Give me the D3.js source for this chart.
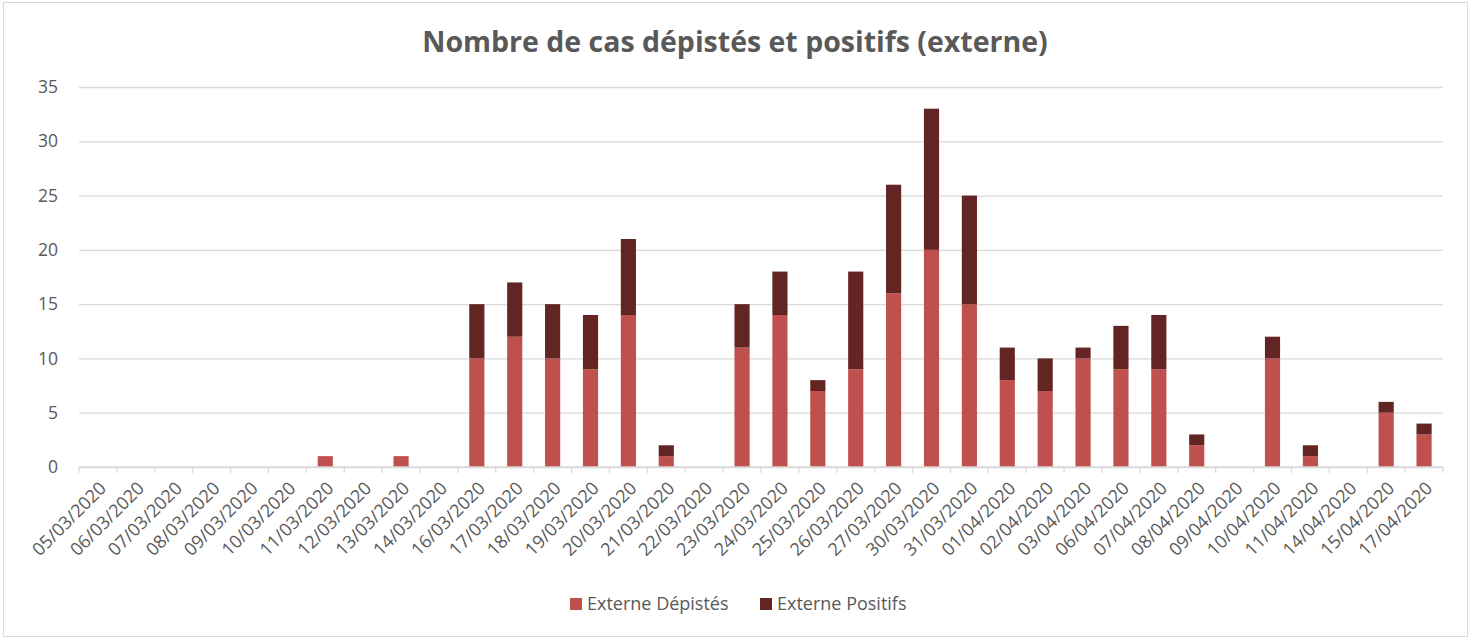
<!DOCTYPE html>
<html>
<head>
<meta charset="utf-8">
<script src="https://cdn.jsdelivr.net/npm/d3@7"></script>
<style>
	body { margin: 0; background: #fff; }
	svg { display: block; font-family: "Open Sans", "Noto Sans", sans-serif; }
	.tick text { fill: #595959; font-size: 17.5px; }
	.x-axis .tick text { font-size: 18px; }
	.gridline line { stroke: #d9d9d9; stroke-width: 1.3; }
	.x-axis path, .x-axis line { stroke: #d9d9d9; stroke-width: 1.3; }
	.title { fill: #595959; font-size: 28.5px; font-weight: bold; }
	.legend text { fill: #595959; font-size: 18px; }
</style>
</head>
<body>
<div id="chart"></div>
<script>
// data
const dates = ['05/03/2020','06/03/2020','07/03/2020','08/03/2020','09/03/2020','10/03/2020',
	'11/03/2020','12/03/2020','13/03/2020','14/03/2020','16/03/2020','17/03/2020','18/03/2020',
	'19/03/2020','20/03/2020','21/03/2020','22/03/2020','23/03/2020','24/03/2020','25/03/2020',
	'26/03/2020','27/03/2020','30/03/2020','31/03/2020','01/04/2020','02/04/2020','03/04/2020',
	'06/04/2020','07/04/2020','08/04/2020','09/04/2020','10/04/2020','11/04/2020','14/04/2020',
	'15/04/2020','17/04/2020'];
const depistes = [0,0,0,0,0,0,1,0,1,0,10,12,10,9,14,1,0,11,14,7,9,16,20,15,8,7,10,9,9,2,0,10,1,0,5,3];
const positifs = [0,0,0,0,0,0,0,0,0,0,5,5,5,5,7,1,0,4,4,1,9,10,13,10,3,3,1,4,5,1,0,2,1,0,1,1];
const yTickValues = [0,5,10,15,20,25,30,35];
const seriesNames = ['Externe Dépistés', 'Externe Positifs'];
const colours = ['#c0504d', '#632523'];

const width = 1472, height = 639;
const margin = { top: 87, right: 29, bottom: 172, left: 79 };

const svg = d3.select('#chart')
	.append('svg')
	.attr('width', width)
	.attr('height', height);

// chart border
svg.append('rect')
	.attr('x', 3.5).attr('y', 2.5)
	.attr('width', width - 8).attr('height', height - 5)
	.attr('fill', 'none')
	.attr('stroke', '#d9d9d9');

const rows = dates.map((d, i) => ({ date: d, depistes: depistes[i], positifs: positifs[i] }));
const stack = d3.stack().keys(['depistes', 'positifs'])(rows);

const x = d3.scaleBand()
	.domain(dates)
	.range([margin.left, width - margin.right])
	.paddingInner(0.6)
	.paddingOuter(0.3);

const y = d3.scaleLinear()
	.domain([0, 35])
	.range([height - margin.bottom, margin.top]);

// gridlines + y labels
svg.append('g')
	.attr('class', 'gridline')
	.attr('transform', `translate(${margin.left},0)`)
	.call(d3.axisLeft(y)
		.tickValues(yTickValues)
		.tickSize(-(width - margin.left - margin.right))
		.tickPadding(21)
	)
	.call(g => g.attr('font-size', null).attr('font-family', null))
	.call(g => g.select('.domain').remove());

// bars
svg.append('g')
	.selectAll('g')
	.data(stack)
	.join('g')
	.attr('fill', (d, i) => colours[i])
	.selectAll('rect')
	.data(d => d.filter(v => v[1] - v[0] > 0))
	.join('rect')
	.attr('x', d => x(d.data.date))
	.attr('y', d => y(d[1]))
	.attr('width', x.bandwidth())
	.attr('height', d => y(d[0]) - y(d[1]));

// x axis with ticks between categories
const xAxisG = svg.append('g')
	.attr('class', 'x-axis')
	.attr('transform', `translate(0,${height - margin.bottom})`);

xAxisG.append('line')
	.attr('x1', margin.left).attr('x2', width - margin.right);

const edges = d3.range(dates.length + 1).map(i => margin.left + i * (width - margin.left - margin.right) / dates.length);
xAxisG.selectAll('.tk')
	.data(edges)
	.join('line')
	.attr('x1', d => d).attr('x2', d => d)
	.attr('y1', 0).attr('y2', 6);

xAxisG.selectAll('.tick')
	.data(dates)
	.join('g')
	.attr('class', 'tick')
	.attr('transform', d => `translate(${x(d) + x.bandwidth() / 2 + 5},${18}) rotate(-45)`)
	.append('text')
	.attr('text-anchor', 'end')
	.attr('dy', '0.35em')
	.text(d => d);

// title
svg.append('text')
	.attr('class', 'title')
	.attr('x', 735)
	.attr('y', 52)
	.attr('text-anchor', 'middle')
	.text('Nombre de cas dépistés et positifs (externe)');

// legend
const legend = svg.append('g')
	.attr('class', 'legend')
	.attr('transform', 'translate(570,604)');

const items = legend.selectAll('g')
	.data(seriesNames)
	.join('g')
	.attr('transform', (d, i) => `translate(${i * 190},0)`);

items.append('rect')
	.attr('x', 0).attr('y', -6)
	.attr('width', 12).attr('height', 12)
	.attr('fill', (d, i) => colours[i]);

items.append('text')
	.attr('x', 17)
	.attr('dy', '0.35em')
	.text(d => d);
</script>
</body>
</html>
